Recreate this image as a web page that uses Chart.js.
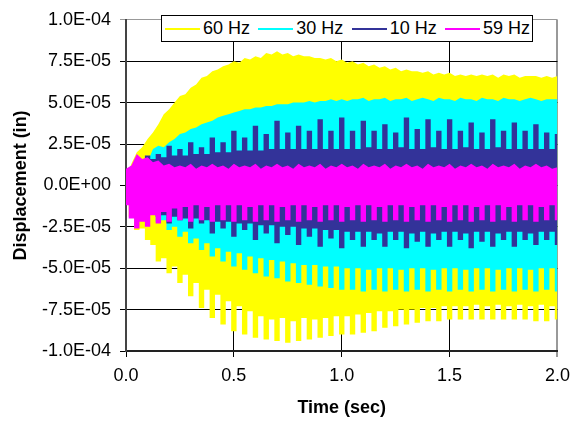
<!DOCTYPE html>
<html lang="en">
  <head>
    <meta charset="UTF-8" />
    <title>Displacement vs Time</title>
    <script src="https://cdn.jsdelivr.net/npm/chart.js"></script>
    <style>
      body {
        margin: 0;
        background: #fff;
        font-family: "Liberation Sans", Arial, sans-serif;
      }
      #wrap {
        position: relative;
        width: 578px;
        height: 423px;
      }
      #chart {
        position: absolute;
        left: 0;
        top: 0;
      }
      #legend {
        position: absolute;
        left: 161px;
        top: 15px;
        width: 372px;
        height: 27px;
        box-sizing: border-box;
        border: 1px solid #000;
        background: #fff;
        display: flex;
        align-items: center;
        padding-left: 3px;
      }
      .item {
        display: flex;
        align-items: center;
        width: 93.33px;
        flex: none;
      }
      .swatch {
        width: 35px;
        height: 2px;
      }
      .label {
        margin-left: 3px;
        font-size: 18px;
        color: #000;
        white-space: nowrap;
      }
    </style>
  </head>
  <body>
    <div id="wrap">
      <canvas id="chart" width="578" height="423"></canvas>
      <div id="legend"></div>
    </div>

    <script>
      // values are in units of 1e-5 in, one every 0.025 s from 0 to 2.0 s
      const UNIT = 1e-5;
      const STEP = 0.025;

      const seriesLabels = ["60 Hz", "30 Hz", "10 Hz", "59 Hz"];
      const seriesColors = ["#ffff00", "#00ffff", "#333399", "#ff00ff"];

      // upper and lower edge of each trace
      const hz60Peaks = [
        0.4, 1.3, 2.0, 2.3, 2.8, 3.2, 3.7, 4.3, 4.6, 5.0,
        5.4, 5.5, 5.9, 6.1, 6.5, 6.6, 6.9, 7.0, 7.2, 7.3,
        7.5, 7.4, 7.7, 7.6, 7.8, 7.7, 8.0, 7.9, 8.1, 7.9,
        8.0, 7.8, 7.9, 7.8, 7.8, 7.7, 7.7, 7.6, 7.7, 7.5,
        7.6, 7.4, 7.5, 7.3, 7.4, 7.2, 7.3, 7.1, 7.2, 7.0,
        7.1, 6.9, 7.0, 6.9, 6.9, 6.8, 6.9, 6.7, 6.8, 6.7,
        6.8, 6.6, 6.7, 6.6, 6.7, 6.6, 6.7, 6.6, 6.7, 6.5,
        6.7, 6.6, 6.7, 6.5, 6.6, 6.6, 6.6, 6.5, 6.6, 6.5,
        6.6,
      ];
      const hz60Troughs = [
        -0.9, -1.9, -2.7, -2.6, -3.3, -3.6, -4.6, -4.4, -5.3, -4.9,
        -5.9, -5.4, -6.7, -5.9, -7.4, -6.3, -8.0, -6.6, -8.4, -7.0,
        -8.8, -7.3, -9.0, -7.6, -9.2, -7.9, -9.3, -8.1, -9.4, -8.0,
        -9.5, -8.2, -9.4, -8.0, -9.3, -8.1, -9.2, -8.0, -9.1, -7.9,
        -9.0, -7.9, -9.0, -7.8, -8.9, -7.7, -8.8, -7.6, -8.6, -7.6,
        -8.5, -7.5, -8.4, -7.5, -8.3, -7.4, -8.2, -7.4, -8.2, -7.3,
        -8.1, -7.3, -8.1, -7.3, -8.1, -7.2, -8.1, -7.3, -8.1, -7.2,
        -8.1, -7.3, -8.1, -7.2, -8.1, -7.3, -8.2, -7.2, -8.2, -7.3,
        -8.1,
      ];

      const hz30Peaks = [
        0.2, 0.5, 0.8, 1.0, 1.4, 2.2, 2.4, 2.3, 2.6, 2.8,
        3.1, 3.2, 3.4, 3.5, 3.7, 3.8, 3.9, 4.1, 4.2, 4.3,
        4.4, 4.5, 4.6, 4.6, 4.7, 4.7, 4.8, 4.8, 4.9, 4.9,
        4.9, 5.0, 5.0, 5.0, 5.1, 5.0, 5.1, 5.1, 5.2, 5.1,
        5.2, 5.1, 5.2, 5.2, 5.3, 5.1, 5.2, 5.2, 5.3, 5.1,
        5.2, 5.2, 5.3, 5.1, 5.2, 5.3, 5.2, 5.1, 5.3, 5.2,
        5.2, 5.1, 5.3, 5.2, 5.2, 5.1, 5.3, 5.2, 5.2, 5.1,
        5.3, 5.2, 5.2, 5.1, 5.2, 5.3, 5.2, 5.1, 5.2, 5.2,
        5.2,
      ];
      const hz30Troughs = [
        -0.3, -0.5, -0.9, -1.0, -1.5, -1.5, -2.2, -2.1, -2.7, -2.5,
        -3.1, -2.8, -3.5, -3.2, -3.9, -3.5, -4.3, -3.8, -4.6, -4.0,
        -4.9, -4.1, -5.1, -4.3, -5.3, -4.4, -5.5, -4.5, -5.6, -4.6,
        -5.8, -4.7, -5.9, -4.8, -6.0, -4.8, -6.1, -4.9, -6.2, -4.9,
        -6.3, -5.0, -6.3, -5.0, -6.4, -5.1, -6.3, -5.0, -6.4, -5.0,
        -6.3, -5.1, -6.4, -5.0, -6.3, -5.0, -6.4, -5.1, -6.3, -5.0,
        -6.4, -5.0, -6.3, -5.1, -6.4, -5.0, -6.3, -5.0, -6.4, -5.1,
        -6.3, -5.0, -6.4, -5.0, -6.3, -5.1, -6.4, -5.0, -6.3, -5.0,
        -6.4,
      ];

      const hz10Peaks = [
        0.1, 0.4, 0.8, 1.2, 1.8, 1.6, 1.9, 1.7, 2.4, 1.8,
        2.2, 1.8, 2.6, 1.9, 2.3, 1.9, 2.9, 2.0, 2.6, 2.0,
        3.3, 2.1, 2.9, 2.1, 3.6, 2.1, 3.1, 2.2, 3.9, 2.2,
        3.2, 2.2, 3.6, 2.2, 3.3, 2.2, 4.0, 2.2, 3.3, 2.2,
        4.1, 2.2, 3.3, 2.2, 3.9, 2.3, 3.3, 2.2, 3.7, 2.2,
        3.2, 2.3, 4.1, 2.2, 3.4, 2.2, 4.0, 2.3, 3.3, 2.2,
        4.0, 2.2, 3.3, 2.3, 3.8, 2.2, 3.2, 2.2, 4.0, 2.3,
        3.3, 2.2, 3.8, 2.2, 3.3, 2.2, 3.7, 2.2, 3.2, 2.2,
        3.1,
      ];
      const hz10Troughs = [
        -0.3, -0.6, -1.0, -1.4, -1.7, -1.6, -1.9, -1.8, -2.3, -1.9,
        -2.1, -2.0, -2.6, -2.0, -2.3, -2.1, -2.9, -2.2, -2.6, -2.2,
        -3.1, -2.3, -2.7, -2.3, -3.3, -2.4, -2.9, -2.4, -3.5, -2.5,
        -3.0, -2.5, -3.6, -2.6, -3.1, -2.6, -3.7, -2.7, -3.2, -2.7,
        -3.8, -2.8, -3.3, -2.8, -3.7, -2.8, -3.3, -2.9, -3.7, -2.8,
        -3.3, -2.8, -3.8, -2.9, -3.4, -2.8, -3.7, -2.9, -3.3, -2.8,
        -3.7, -2.8, -3.3, -2.9, -3.8, -2.8, -3.4, -2.8, -3.7, -2.9,
        -3.3, -2.8, -3.7, -2.8, -3.3, -2.9, -3.6, -2.8, -3.3, -2.8,
        -3.6,
      ];

      const hz59Peaks = [
        1.0, 1.2, 1.9, 1.6, 1.7, 1.4, 1.5, 1.2, 1.3, 1.1,
        1.2, 1.1, 1.3, 1.0, 1.2, 1.1, 1.3, 1.1, 1.2, 1.0,
        1.3, 1.1, 1.2, 1.1, 1.3, 1.0, 1.2, 1.1, 1.3, 1.1,
        1.2, 1.0, 1.3, 1.1, 1.2, 1.1, 1.3, 1.0, 1.2, 1.1,
        1.3, 1.1, 1.2, 1.0, 1.3, 1.1, 1.2, 1.1, 1.3, 1.0,
        1.2, 1.1, 1.3, 1.1, 1.2, 1.0, 1.3, 1.1, 1.2, 1.1,
        1.3, 1.0, 1.2, 1.1, 1.3, 1.1, 1.2, 1.0, 1.3, 1.1,
        1.2, 1.1, 1.3, 1.0, 1.2, 1.1, 1.3, 1.1, 1.2, 1.0,
        1.1,
      ];
      const hz59Troughs = [
        -1.2, -2.0, -2.6, -2.2, -2.5, -1.8, -2.3, -1.6, -2.2, -1.4,
        -2.1, -1.3, -2.2, -1.2, -2.1, -1.3, -2.2, -1.2, -2.1, -1.2,
        -2.2, -1.2, -2.1, -1.3, -2.2, -1.2, -2.1, -1.2, -2.2, -1.3,
        -2.1, -1.2, -2.2, -1.2, -2.1, -1.3, -2.2, -1.2, -2.1, -1.2,
        -2.2, -1.3, -2.1, -1.2, -2.2, -1.2, -2.1, -1.3, -2.2, -1.2,
        -2.1, -1.2, -2.2, -1.3, -2.1, -1.2, -2.2, -1.2, -2.1, -1.3,
        -2.2, -1.2, -2.1, -1.2, -2.2, -1.3, -2.1, -1.2, -2.2, -1.2,
        -2.1, -1.3, -2.2, -1.2, -2.1, -1.2, -2.2, -1.3, -2.1, -1.2,
        -2.1,
      ];

      const xTickValues = [0, 0.5, 1, 1.5, 2];
      const xTickLabels = ["0.0", "0.5", "1.0", "1.5", "2.0"];
      const yTickValues = [-1e-4, -7.5e-5, -5e-5, -2.5e-5, 0, 2.5e-5, 5e-5, 7.5e-5, 1e-4];
      const yTickLabels = [
        "-1.0E-04", "-7.5E-05", "-5.0E-05", "-2.5E-05", "0.0E+00",
        "2.5E-05", "5.0E-05", "7.5E-05", "1.0E-04",
      ];

      const peakSets = [hz60Peaks, hz30Peaks, hz10Peaks, hz59Peaks];
      const troughSets = [hz60Troughs, hz30Troughs, hz10Troughs, hz59Troughs];
      // spiky edges are drawn as narrow columns
      const steppedUpper = [false, false, true, false];
      const steppedLower = [true, true, true, true];

      const toPoints = (values) => values.map((v, k) => ({ x: k * STEP, y: v * UNIT }));

      // each trace is a band: upper edge, then lower edge filled up to it
      const datasets = [];
      seriesLabels.forEach((label, i) => {
        const order = seriesLabels.length - i; // 60 Hz at the back
        datasets.push({
          label: label,
          data: toPoints(peakSets[i]),
          borderWidth: 0,
          borderColor: seriesColors[i],
          pointRadius: 0,
          stepped: steppedUpper[i] ? "middle" : false,
          fill: false,
          order: order,
        });
        datasets.push({
          label: label + " (lower)",
          data: toPoints(troughSets[i]),
          borderWidth: 0,
          borderColor: seriesColors[i],
          backgroundColor: seriesColors[i],
          pointRadius: 0,
          stepped: steppedLower[i] ? "middle" : false,
          fill: "-1",
          order: order,
        });
      });

      // legend
      const legendEl = document.getElementById("legend");
      seriesLabels.forEach((label, i) => {
        const item = document.createElement("div");
        item.className = "item";
        const sw = document.createElement("span");
        sw.className = "swatch";
        sw.style.background = seriesColors[i];
        const txt = document.createElement("span");
        txt.className = "label";
        txt.textContent = label;
        item.appendChild(sw);
        item.appendChild(txt);
        legendEl.appendChild(item);
      });

      Chart.defaults.font.family = '"Liberation Sans", Arial, sans-serif';
      Chart.defaults.color = "#000";

      new Chart(document.getElementById("chart"), {
        type: "line",
        data: { datasets: datasets },
        options: {
          responsive: false,
          animation: false,
          events: [],
          layout: { padding: { top: 11, right: 18, left: 0, bottom: 0 } },
          plugins: {
            legend: { display: false },
            tooltip: { enabled: false },
            filler: { propagate: false },
          },
          scales: {
            x: {
              type: "linear",
              min: 0,
              max: 2,
              afterBuildTicks: (scale) => {
                scale.ticks = xTickValues.map((value) => ({ value }));
              },
              afterFit: (scale) => {
                scale.height = 72;
              },
              ticks: {
                callback: (value, index) => xTickLabels[index],
                font: { size: 18 },
                padding: 8,
                maxRotation: 0,
              },
              grid: {
                color: (ctx) => (ctx.tick && ctx.tick.value === 2 ? "#999" : "#000"),
                lineWidth: (ctx) => (ctx.tick && ctx.tick.value === 2 ? 2 : 1),
                tickLength: 6,
              },
              border: { color: "#222", width: 2 },
              title: {
                display: true,
                text: "Time (sec)",
                font: { size: 18, weight: "bold" },
                padding: { top: 0, bottom: 4 },
              },
            },
            y: {
              type: "linear",
              min: -1e-4,
              max: 1e-4,
              afterBuildTicks: (scale) => {
                scale.ticks = yTickValues.map((value) => ({ value }));
              },
              afterFit: (scale) => {
                scale.width = 126;
              },
              ticks: {
                callback: (value, index) => yTickLabels[index],
                font: { size: 18 },
                padding: 9,
              },
              grid: {
                color: (ctx) => (ctx.tick && ctx.tick.value === 1e-4 ? "#999" : "#000"),
                tickLength: 6,
              },
              border: { color: "#444", width: 2 },
              title: {
                display: true,
                text: "Displacement (in)",
                font: { size: 18, weight: "bold" },
                padding: { top: 10, bottom: 0 },
              },
            },
          },
        },
      });
    </script>
  </body>
</html>
